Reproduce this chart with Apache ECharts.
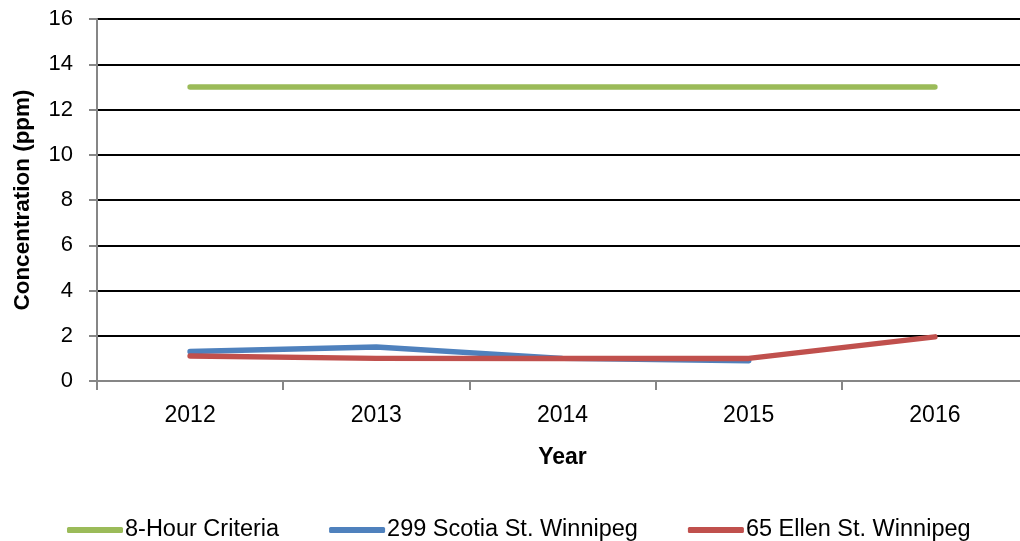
<!DOCTYPE html>
<html><head><meta charset="utf-8">
<script src="https://cdn.jsdelivr.net/npm/echarts@6/dist/echarts.min.js"></script>
<style>html,body{margin:0;padding:0;background:#fff}#c{width:1020px;height:541px}</style>
</head><body><div id="c"></div>
<script>
var years = ['2012','2013','2014','2015','2016'];
var criteria = [13, 13, 13, 13, 13];
var scotia = [1.3, 1.5, 1.0, 0.9, null];
var ellen = [1.1, 1.0, 1.0, 1.0, 1.95];
var yTicks = {min: 0, max: 16, interval: 2};
var FONT = '"Liberation Sans", Arial, sans-serif';

var chart = echarts.init(document.getElementById('c'), null, {renderer: 'canvas'});
function mk(name, data, color) {
  return {
    name: name, type: 'line', data: data, symbol: 'none', connectNulls: false,
    lineStyle: {width: 5.5, color: color, cap: 'round', join: 'round'},
    itemStyle: {color: color}, animation: false
  };
}
chart.setOption({
  animation: false,
  grid: {left: 97, top: 19, height: 362, width: 931, containLabel: false, outerBoundsMode: 'none'},
  xAxis: {
    type: 'category', data: years, boundaryGap: true,
    name: 'Year', nameLocation: 'middle', nameGap: 65,
    nameTextStyle: {fontFamily: FONT, fontSize: 23, fontWeight: 'bold', color: '#000'},
    axisLine: {lineStyle: {color: '#868686', width: 2}},
    axisTick: {show: true, length: 9, lineStyle: {color: '#868686', width: 2}},
    axisLabel: {fontFamily: FONT, fontSize: 23, color: '#000', margin: 23},
    splitLine: {show: false}
  },
  yAxis: {
    type: 'value', min: yTicks.min, max: yTicks.max, interval: yTicks.interval,
    name: 'Concentration (ppm)', nameLocation: 'middle', nameGap: 63, nameRotate: 90,
    nameTextStyle: {fontFamily: FONT, fontSize: 22.5, fontWeight: 'bold', color: '#000'},
    axisLine: {show: true, lineStyle: {color: '#868686', width: 2}},
    axisTick: {show: true, length: 8, lineStyle: {color: '#868686', width: 2}},
    axisLabel: {fontFamily: FONT, fontSize: 22, color: '#000', margin: 24},
    splitLine: {show: true, lineStyle: {color: '#000', width: 2}}
  },
  legend: {
    top: 513, left: 62, itemWidth: 56, itemHeight: 6, itemGap: 50, icon: 'roundRect',
    textStyle: {fontFamily: FONT, fontSize: 23.5, color: '#000', padding: [0,0,0,-3]},
    data: ['8-Hour Criteria', '299 Scotia St. Winnipeg', '65 Ellen St. Winnipeg']
  },
  series: [
    mk('8-Hour Criteria', criteria, '#9BBB59'),
    mk('299 Scotia St. Winnipeg', scotia, '#4F81BD'),
    mk('65 Ellen St. Winnipeg', ellen, '#C0504D')
  ]
});
</script></body></html>
